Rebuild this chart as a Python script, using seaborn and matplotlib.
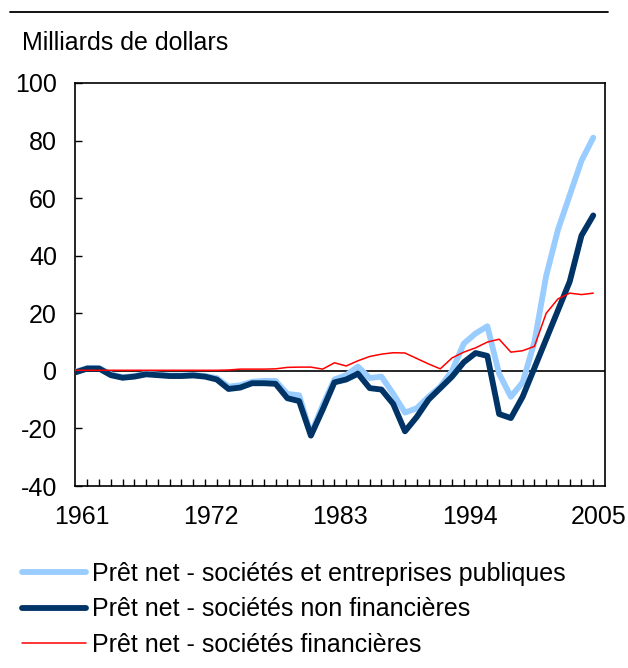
import matplotlib
matplotlib.use("Agg")
import matplotlib.pyplot as plt
import seaborn as sns
import pandas as pd
import numpy as np

# Annual values, billions of dollars
years = list(range(1961, 2006))

total = [-0.3, 1.0, 1.0, -1.2, -2.2, -1.8, -1.0, -1.3, -1.6, -1.6, -1.4, -1.8, -2.5,
         -5.5, -5.0, -3.8, -3.5, -3.5, -8.0, -8.5, -22.0, -12.0, -3.0, -1.5, 1.5,
         -2.5, -2.0, -8.0, -14.5, -13.0, -9.0, -5.5, 0.0, 9.5, 13.0, 15.5, -1.0,
         -9.0, -4.0, 10.0, 33.0, 49.0, 61.0, 73.0, 81.0]

nonfin = [-0.5, 0.8, 0.8, -1.5, -2.4, -2.0, -1.2, -1.5, -1.8, -1.8, -1.6, -2.0, -3.0,
          -6.3, -5.8, -4.3, -4.3, -4.5, -9.5, -10.5, -22.5, -13.5, -4.0, -3.0, -1.0,
          -6.0, -6.5, -11.5, -21.0, -16.0, -10.0, -6.0, -2.0, 3.0, 6.2, 5.2, -15.0,
          -16.4, -9.0, 1.0, 11.0, 21.0, 31.0, 47.0, 54.0]

fin = [0.2, 0.2, 0.2, 0.2, 0.2, 0.2, 0.2, 0.2, 0.2, 0.2, 0.2, 0.2, 0.2,
       0.3, 0.6, 0.6, 0.6, 0.7, 1.2, 1.3, 1.3, 0.6, 2.8, 1.7, 3.5,
       5.0, 5.8, 6.3, 6.2, 4.3, 2.4, 0.7, 4.5, 6.5, 8.0, 10.0, 11.0,
       6.5, 7.0, 8.5, 20.0, 25.0, 27.0, 26.5, 27.0]

labels = ["Prêt net - sociétés et entreprises publiques",
          "Prêt net - sociétés non financières",
          "Prêt net - sociétés financières"]

year_labels = [1961, 1972, 1983, 1994, 2005]
y_ticks = [-40, -20, 0, 20, 40, 60, 80, 100]

df = pd.DataFrame({"Année": years, labels[0]: total, labels[1]: nonfin, labels[2]: fin})

sns.set_style("white")
plt.rcParams['font.family'] = ['Liberation Sans', 'DejaVu Sans']
plt.rcParams['axes.unicode_minus'] = False
plt.rcParams['text.color'] = 'black'
plt.rcParams['xtick.color'] = 'black'
plt.rcParams['ytick.color'] = 'black'

fig = plt.figure(figsize=(6.28, 6.68), dpi=100)
ax = fig.add_axes([75/628, 1-486/668, 530/628, 403/668])

ax.axhline(0, color="black", lw=1.2, zorder=1)
sns.lineplot(data=df, x="Année", y=labels[0], color="#99CCFF", lw=4.2, ax=ax,
             label=labels[0], zorder=3)
sns.lineplot(data=df, x="Année", y=labels[1], color="#003366", lw=4.2, ax=ax,
             label=labels[1], zorder=4)
sns.lineplot(data=df, x="Année", y=labels[2], color="#FF0000", lw=1.1, ax=ax,
             label=labels[2], zorder=5)

ax.set_xlim(1960.95, 2006.0)
ax.set_ylim(-40, 100)
ax.set_xlabel("")
ax.set_ylabel("")

ax.set_xticks([y + 0.5 for y in year_labels])
ax.set_xticklabels([str(y) for y in year_labels], fontsize=18)
ax.set_xticks(years[1:], minor=True)
ax.tick_params(axis="x", which="major", length=0, pad=14)
ax.tick_params(axis="x", which="minor", direction="in", length=5, width=1,
               bottom=True, color="black")
ax.set_yticks(y_ticks)
ax.set_yticklabels([str(v) for v in y_ticks], fontsize=18)
ax.tick_params(axis="y", direction="in", length=5, width=1, left=True,
               color="black", pad=13)

for s in ax.spines.values():
    s.set_visible(True)
    s.set_color("black")
    s.set_linewidth(1.2)

handles, labs = ax.get_legend_handles_labels()
ax.legend_.remove()
fig.legend(handles, labs, loc="upper left", bbox_to_anchor=(22/628, 1-562/668),
           frameon=False, fontsize=18, handlelength=2.55, handletextpad=0.25,
           labelspacing=0.45, borderaxespad=0, borderpad=0)

fig.text(22/628, 1-43/668, "Milliards de dollars", fontsize=18, va="center", ha="left")
fig.add_artist(plt.Line2D([10/628, 608/628], [1-12/668, 1-12/668], color="black", lw=1.3))

fig.savefig("out.png", dpi=100)
